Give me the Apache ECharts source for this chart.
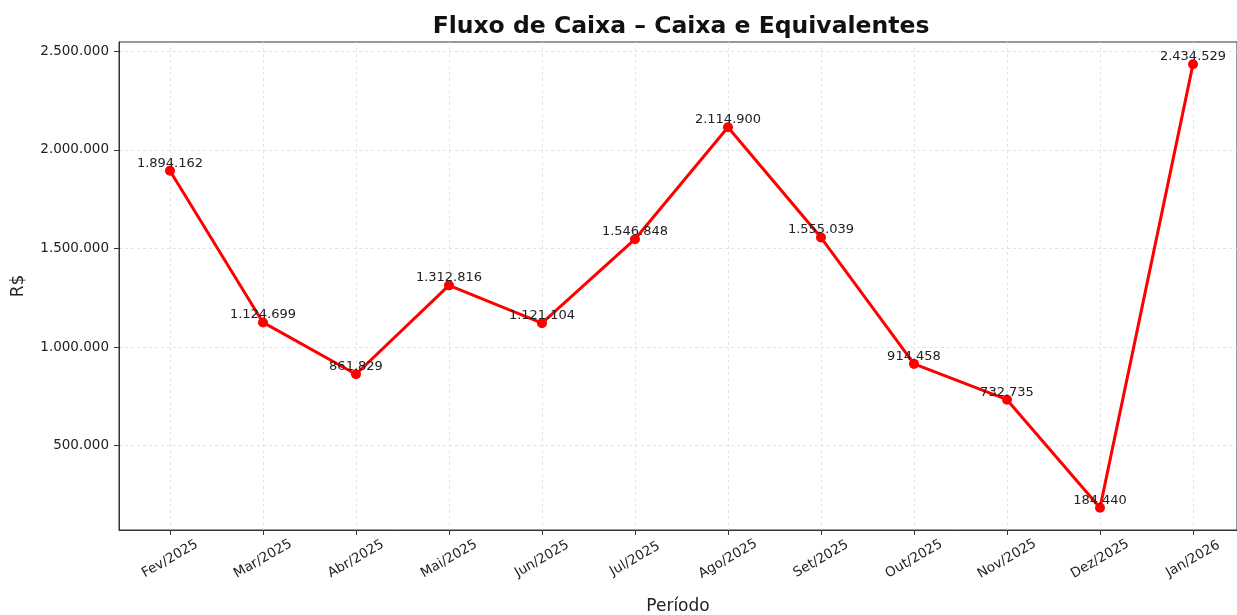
<!DOCTYPE html>
<html><head><meta charset="utf-8">
<script src="https://cdn.jsdelivr.net/npm/echarts@6/dist/echarts.min.js"></script>
<style>html,body{margin:0;padding:0;background:#fff}#c{width:1237px;height:615px}</style>
</head><body><div id="c"></div>
<script>
const categories = ["Fev/2025","Mar/2025","Abr/2025","Mai/2025","Jun/2025","Jul/2025","Ago/2025","Set/2025","Out/2025","Nov/2025","Dez/2025","Jan/2026"];
const caixa = [1894162,1124699,861829,1312816,1121104,1546848,2114900,1555039,914458,732735,184440,2434529];
const yTicks = [500000,1000000,1500000,2000000,2500000];

const fmt = v => Math.round(v).toString().replace(/\B(?=(\d{3})+(?!\d))/g, '.');
const lo = Math.min(...caixa), hi = Math.max(...caixa), pad = (hi - lo) * 0.05;
const xIdx = categories.map((_, i) => i);
const txt = '#222';

const chart = echarts.init(document.getElementById('c'), null, {renderer:'canvas'});
chart.setOption({
  animation:false,
  title:{text:'Fluxo de Caixa – Caixa e Equivalentes', left:676, top:10, textAlign:'center',
    textStyle:{fontFamily:'DejaVu Sans', fontSize:23.5, fontWeight:'bold', color:'#111'}},
  grid:{left:119, right:0, top:42, bottom:85, show:true, borderColor:'#333', borderWidth:1,
    containLabel:false, outerBoundsMode:'none'},
  xAxis:{type:'value', min:-0.548, max:11.473,
    name:'Período', nameLocation:'middle', nameGap:68,
    nameTextStyle:{fontFamily:'DejaVu Sans', fontSize:17, color:txt},
    axisLine:{show:true, onZero:false, lineStyle:{color:'#333'}},
    axisTick:{show:true, customValues:xIdx, length:5, lineStyle:{color:'#333'}},
    axisLabel:{customValues:xIdx, rotate:30, margin:29, align:'center', verticalAlign:'middle',
      fontFamily:'DejaVu Sans', fontSize:13.5, color:txt,
      formatter: v => categories[Math.round(v)]},
    splitLine:{show:true, lineStyle:{color:'#ddd', type:[3,3], width:0.8}}},
  yAxis:{type:'value', min:lo - pad, max:hi + pad,
    name:'R$', nameLocation:'middle', nameGap:92, nameRotate:90,
    nameTextStyle:{fontFamily:'DejaVu Sans', fontSize:17, color:txt},
    axisLine:{show:true, onZero:false, lineStyle:{color:'#333'}},
    axisTick:{show:true, customValues:yTicks, length:5, lineStyle:{color:'#333'}},
    axisLabel:{customValues:yTicks, margin:10, fontFamily:'DejaVu Sans', fontSize:13.5, color:txt, formatter: fmt},
    splitLine:{show:true, lineStyle:{color:'#ddd', type:[3,3], width:0.8}}},
  series:[{type:'line', data: caixa.map((v,i)=>[i,v]),
    lineStyle:{color:'#ff0000', width:3}, itemStyle:{color:'#ff0000'},
    symbol:'circle', symbolSize:10,
    label:{show:true, position:'top', distance:-4, formatter: p => fmt(p.value[1]),
      fontFamily:'DejaVu Sans', fontSize:13, color:'#222'}}]
});
</script></body></html>
